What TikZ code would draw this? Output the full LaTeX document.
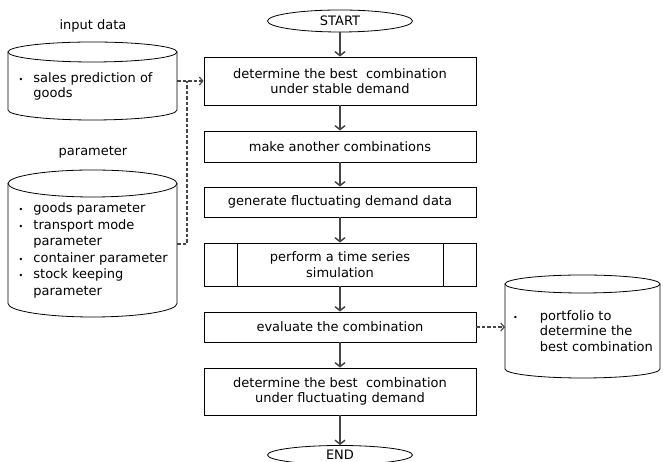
\documentclass[tikz,border=0pt]{standalone}
\usepackage{fontspec}
\setmainfont{DejaVu Sans}
\usetikzlibrary{arrows.meta}
\usetikzlibrary{shapes.geometric}
\definecolor{arrowgray}{rgb}{0.27,0.27,0.27}
\tikzset{
  procbox/.style={draw, line width=0.8pt, minimum width=272pt, inner sep=0pt, align=center},
  termnode/.style={draw, line width=0.8pt, ellipse, minimum width=145pt, minimum height=22pt, inner sep=0pt},
  flowarrow/.style={draw=arrowgray, line width=1.5pt, -{Straight Barb[length=4pt,width=10pt]}},
  dataline/.style={draw=arrowgray, line width=1.2pt, dash pattern=on 3.5pt off 2pt},
  dataarrow/.style={dataline, -{Straight Barb[length=3.5pt,width=8pt]}},
  cyltext/.style={anchor=west, inner sep=0pt, align=left},
}
\newcommand{\bul}{{\fontsize{8}{8}\selectfont\textbullet}}
\begin{document}
\begin{tikzpicture}[x=1pt,y=1pt,font=\fontsize{13}{15.5}\selectfont]
        \useasboundingbox (0,0) rectangle (663,462);

        % Ablauf
        \node[termnode] (start) at (340,441) {START};
        \node[procbox, minimum height=48pt] (best1) at (340,381) {determine the best\ \ combination\\under stable demand};
        \node[procbox, minimum height=31pt] (other) at (340,315.5) {make another combinations};
        \node[procbox, minimum height=30pt] (fluct) at (340,260) {generate fluctuating demand data};
        \node[procbox, minimum height=43pt] (sim) at (340,197.5) {perform a time series\\simulation};
        \draw[line width=0.8pt] ([xshift=34pt]sim.north west) -- ([xshift=34pt]sim.south west);
        \draw[line width=0.8pt] ([xshift=-33pt]sim.north east) -- ([xshift=-33pt]sim.south east);
        \node[procbox, minimum height=30pt] (eval) at (340,135) {evaluate the combination};
        \node[procbox, minimum height=47pt] (best2) at (340,70.5) {determine the best\ \ combination\\under fluctuating demand};
        \node[termnode, minimum height=19pt] (end) at (340,7) {END};

        \draw[flowarrow] (start) -- (best1);
        \draw[flowarrow] (best1) -- (other);
        \draw[flowarrow] (other) -- (fluct);
        \draw[flowarrow] (fluct) -- (sim);
        \draw[flowarrow] (sim) -- (eval);
        \draw[flowarrow] (eval) -- (best2);
        \draw[flowarrow] (best2) -- (end);

        % Eingabedaten
        \node (inplabel) at (93,436) {input data};
        \draw[line width=0.8pt] (92.5,410) ellipse [x radius=84.5, y radius=10];
        \draw[line width=0.8pt] (8,410) -- (8,352) arc[start angle=180, end angle=360, x radius=84.5, y radius=10] -- (177,410);
        \node[cyltext] (inp) at (18.5,375) {\begin{tabular}{@{}l@{\hspace{10pt}}l@{}}\bul & sales prediction of\\ & goods\end{tabular}};
        \coordinate (inp-e) at (177,381);

        % Parameter
        \node (parlabel) at (93,310) {parameter};
        \draw[line width=0.8pt] (92.5,278.5) ellipse [x radius=84.5, y radius=13.5];
        \draw[line width=0.8pt] (8,278.5) -- (8,158.5) arc[start angle=180, end angle=360, x radius=84.5, y radius=13.5] -- (177,278.5);
        \node[cyltext, font=\fontsize{13}{16.5}\selectfont] (par) at (18.5,211.5) {\begin{tabular}{@{}l@{\hspace{10pt}}l@{}}\bul & goods parameter\\ \bul & transport mode\\ & parameter\\ \bul & container parameter\\ \bul & stock keeping\\ & parameter\end{tabular}};
        \coordinate (par-e) at (177,218);
        \coordinate (join) at (187,381);

        % Ergebnis
        \draw[line width=0.8pt] (582.5,178) ellipse [x radius=77.5, y radius=9];
        \draw[line width=0.8pt] (505,178) -- (505,93) arc[start angle=180, end angle=360, x radius=77.5, y radius=9] -- (660,178);
        \node[cyltext] (port) at (513,129.5) {\begin{tabular}{@{}l@{\hspace{22pt}}l@{}}\bul & portfolio to\\ & determine the\\ & best combination\end{tabular}};
        \coordinate (port-w) at (505,135);

        \draw[dataarrow] (inp-e) -- (best1.west);
        \draw[dataline] (par-e) -| (join);
        \draw[dataarrow] (eval.east) -- (port-w);
\end{tikzpicture}
\end{document}
